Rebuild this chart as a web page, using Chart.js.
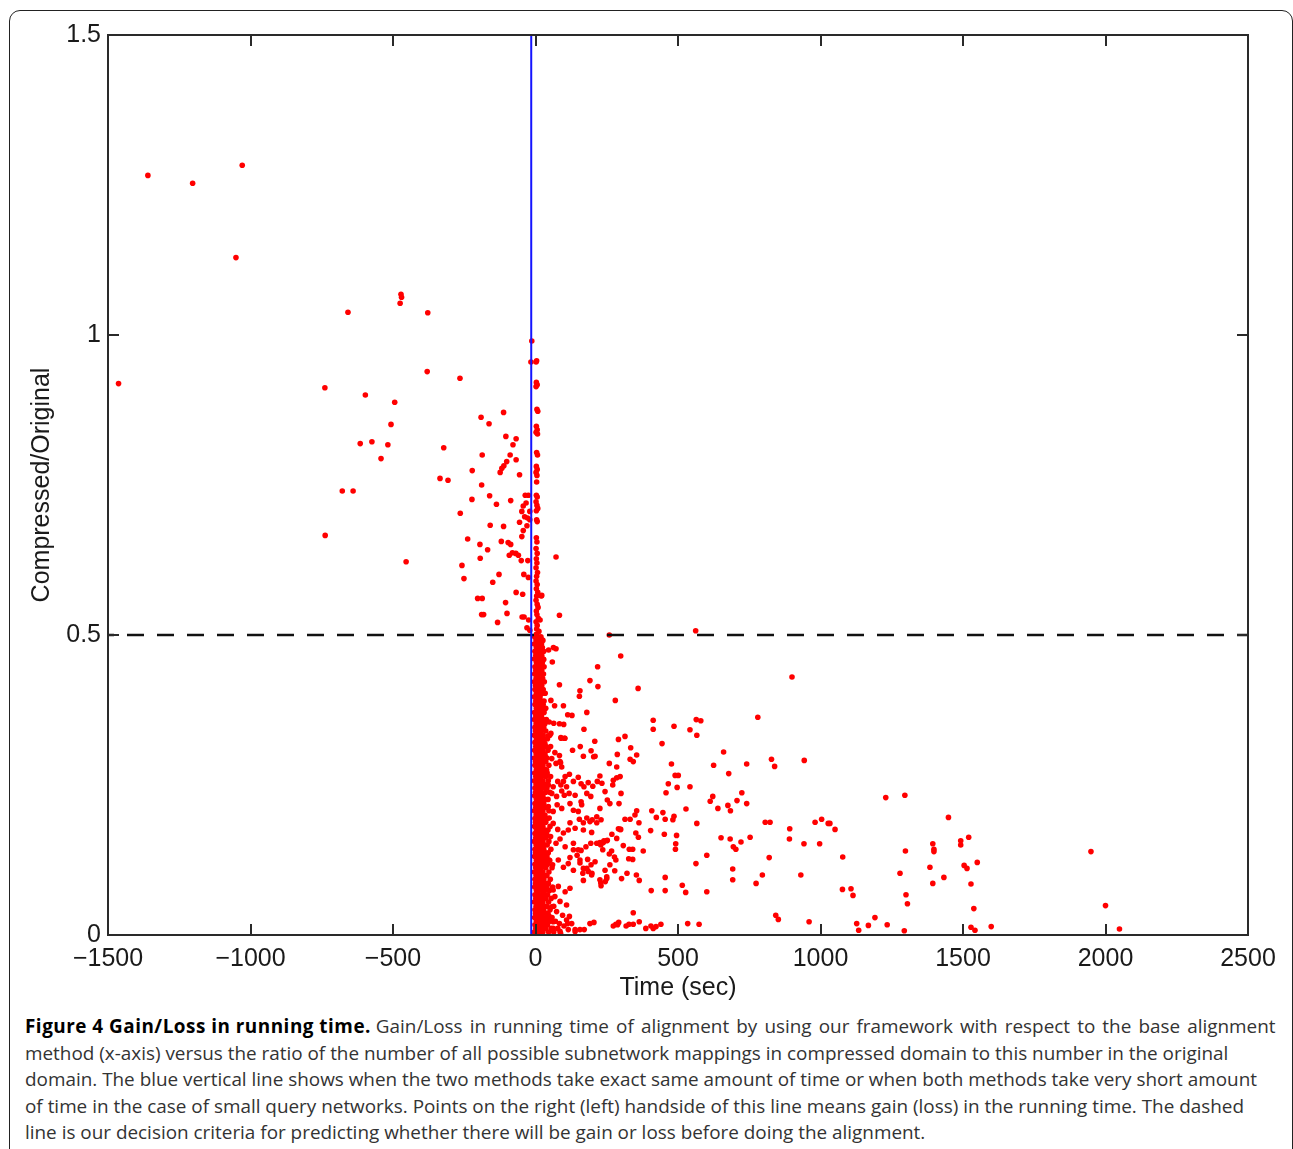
<!DOCTYPE html>
<html>
<head>
<meta charset="utf-8">
<script src="https://cdn.jsdelivr.net/npm/chart.js@4"></script>
<style>
  body { margin: 0; background: #fff; width: 1293px; height: 1149px; overflow: hidden; position: relative; }
  #frame { position: absolute; left: 9px; top: 10px; width: 1284px; height: 1160px; border: 1.4px solid #222; border-radius: 11px; box-sizing: border-box; }
  #wrap { position: absolute; left: 0; top: 0; width: 1293px; height: 1005px; }
  #caption { position: absolute; left: 25px; top: 1013px; font-family: "Open Sans", sans-serif; font-size: 18.9px; line-height: 26.5px; color: #333; white-space: nowrap; }
  #caption b { color: #000; letter-spacing: 0.5px; }
  #caption .wide { word-spacing: 2.2px; }
</style>
</head>
<body>
<div id="frame"></div>
<div id="wrap"><canvas id="grafico"></canvas></div>
<div id="caption">
  <div><b>Figure 4 Gain/Loss in running time.</b> <span class="wide">Gain/Loss in running time of alignment by using our framework with respect to the base alignment</span></div>
  <div>method (x-axis) versus the ratio of the number of all possible subnetwork mappings in compressed domain to this number in the original</div>
  <div>domain. The blue vertical line shows when the two methods take exact same amount of time or when both methods take very short amount</div>
  <div>of time in the case of small query networks. Points on the right (left) handside of this line means gain (loss) in the running time. The dashed</div>
  <div>line is our decision criteria for predicting whether there will be gain or loss before doing the alignment.</div>
</div>
<script>
// eixos
const xTicks = [-1500, -1000, -500, 0, 500, 1000, 1500, 2000, 2500];
const yTicks = [0, 0.5, 1, 1.5];
const equalTime = -15;      // linha azul
const decisionRatio = 0.5;  // linha tracejada

// pontos à esquerda da linha (perda): [tempo, razão]
const lossPoints = [
  [-1360,1.266],[-1203,1.253],[-1029,1.283],[-1051,1.129],[-1463,0.919],
  [-472,1.068],[-470,1.063],[-475,1.053],[-658,1.038],[-378,1.037],
  [-380,0.939],[-265,0.928],[-739,0.912],[-597,0.900],[-494,0.888],
  [-507,0.851],[-191,0.863],[-163,0.852],[-112,0.871],[-104,0.831],[-68,0.827],
  [-615,0.819],[-574,0.822],[-518,0.817],[-542,0.794],[-678,0.740],[-640,0.740],
  [-738,0.666],[-454,0.622],[-322,0.812],[-335,0.761],[-307,0.758],
  [-79,0.817],[-89,0.800],[-187,0.800],[-68,0.792],[-101,0.789],[-111,0.782],
  [-118,0.778],[-124,0.771],[-222,0.774],[-56,0.767],[-189,0.750],[-223,0.726],
  [-161,0.732],[-137,0.718],[-87,0.724],[-36,0.733],[-25,0.733],[-43,0.715],
  [-33,0.720],[-48,0.706],[-38,0.697],[-20,0.706],[-28,0.695],[-56,0.688],
  [-30,0.682],[-20,0.692],[-264,0.703],[-159,0.683],[-112,0.681],[-43,0.674],
  [-48,0.664],[-238,0.660],[-195,0.651],[-120,0.656],[-96,0.654],[-87,0.651],
  [-168,0.642],[-194,0.628],[-92,0.633],[-81,0.637],[-69,0.636],[-60,0.633],
  [-50,0.624],[-27,0.624],[-258,0.616],[-251,0.594],[-128,0.601],[-150,0.588],
  [-41,0.601],[-25,0.596],[-203,0.561],[-187,0.561],[-68,0.571],[-105,0.554],
  [-45,0.568],[-189,0.534],[-182,0.534],[-100,0.536],[-47,0.530],[-40,0.530],
  [-133,0.521],[-24,0.525],[-20,0.508],[-30,0.512]
];

// coluna junto de zero acima de 0.5
const columnPoints = [
  [-13,0.99],[-16,0.955],[2,0.955],[4,0.957],[3,0.921],[6,0.917],[2,0.914],
  [5,0.876],[8,0.873],[3,0.848],[6,0.842],[2,0.838],[7,0.835],[4,0.804],[7,0.8],
  [3,0.781],[6,0.776],[2,0.771],[5,0.766],[4,0.755],[3,0.733],[6,0.73],[2,0.722],
  [5,0.716],[8,0.711],[3,0.707],[4,0.692],[6,0.689],[3,0.662],[5,0.655],[2,0.644],
  [6,0.636],[3,0.627],[5,0.62],[2,0.612],[7,0.604],[4,0.598],[2,0.59],[6,0.584],
  [3,0.577],[8,0.571],[4,0.565],[2,0.558],[6,0.551],[9,0.546],[3,0.54],[5,0.534],
  [10,0.528],[2,0.522],[6,0.516],[4,0.51],[12,0.506],[3,0.501],
  [72,0.630],[84,0.533],[20,0.565],[22,0.566],[16,0.525],[23,0.492]
];

// faixa densa entre 0 e 0.5
const bandPoints = [
  [-3,0.497],[9,0.497],[19,0.497],[2,0.491],[14,0.491],[26,0.491],[-4,0.485],[7,0.485],[21,0.485],
  [3,0.479],[12,0.479],[24,0.479],[-2,0.473],[8,0.473],[17,0.473],[29,0.473],[1,0.466],[13,0.466],[22,0.466],
  [-4,0.460],[6,0.460],[18,0.460],[27,0.460],[3,0.454],[11,0.454],[24,0.454],[-2,0.447],[8,0.447],[16,0.447],[30,0.447],
  [1,0.441],[13,0.441],[22,0.441],[-3,0.435],[6,0.435],[19,0.435],[28,0.435],[2,0.428],[11,0.428],[25,0.428],
  [-4,0.422],[8,0.422],[16,0.422],[31,0.422],[0,0.416],[13,0.416],[22,0.416],[-2,0.409],[6,0.409],[19,0.409],[27,0.409],
  [3,0.403],[10,0.403],[24,0.403],[34,0.403],[-4,0.397],[8,0.397],[16,0.397],[1,0.390],[13,0.390],[22,0.390],[30,0.390],
  [-2,0.384],[6,0.384],[18,0.384],[27,0.384],[3,0.378],[11,0.378],[24,0.378],[36,0.378],[-3,0.371],[8,0.371],[16,0.371],[30,0.371],
  [1,0.365],[13,0.365],[21,0.365],[-4,0.359],[6,0.359],[18,0.359],[27,0.359],[38,0.359],[2,0.352],[11,0.352],[24,0.352],[33,0.352],
  [-2,0.346],[8,0.346],[16,0.346],[29,0.346],[0,0.340],[13,0.340],[21,0.340],[36,0.340],[-4,0.333],[6,0.333],[18,0.333],[27,0.333],
  [3,0.327],[10,0.327],[24,0.327],[32,0.327],[42,0.327],[-2,0.321],[8,0.321],[16,0.321],[29,0.321],[1,0.314],[13,0.314],[21,0.314],[37,0.314],
  [-3,0.308],[6,0.308],[18,0.308],[26,0.308],[44,0.308],[2,0.302],[11,0.302],[23,0.302],[33,0.302],
  [-4,0.295],[8,0.295],[16,0.295],[29,0.295],[40,0.295],[0,0.289],[13,0.289],[21,0.289],[36,0.289],
  [-2,0.283],[6,0.283],[18,0.283],[26,0.283],[47,0.283],[3,0.276],[10,0.276],[23,0.276],[33,0.276],
  [-3,0.270],[8,0.270],[16,0.270],[29,0.270],[41,0.270],[1,0.264],[13,0.264],[21,0.264],[36,0.264],
  [-4,0.257],[6,0.257],[18,0.257],[26,0.257],[45,0.257],[2,0.251],[11,0.251],[23,0.251],[33,0.251],
  [-2,0.245],[8,0.245],[16,0.245],[29,0.245],[40,0.245],[0,0.238],[13,0.238],[21,0.238],[36,0.238],[50,0.238],
  [-3,0.232],[6,0.232],[18,0.232],[26,0.232],[3,0.226],[10,0.226],[23,0.226],[33,0.226],[44,0.226],
  [-2,0.219],[8,0.219],[16,0.219],[29,0.219],[1,0.213],[13,0.213],[21,0.213],[38,0.213],
  [-4,0.207],[6,0.207],[18,0.207],[26,0.207],[47,0.207],[2,0.200],[11,0.200],[23,0.200],[33,0.200],
  [-2,0.194],[8,0.194],[16,0.194],[29,0.194],[42,0.194],[0,0.188],[13,0.188],[21,0.188],[36,0.188],
  [-3,0.181],[6,0.181],[18,0.181],[26,0.181],[51,0.181],[3,0.175],[10,0.175],[23,0.175],[33,0.175],[44,0.175],
  [-2,0.169],[8,0.169],[16,0.169],[29,0.169],[39,0.169],[1,0.162],[13,0.162],[21,0.162],[36,0.162],
  [-4,0.156],[6,0.156],[18,0.156],[26,0.156],[47,0.156],[2,0.150],[11,0.150],[23,0.150],[33,0.150],[41,0.150],
  [-2,0.143],[8,0.143],[16,0.143],[29,0.143],[54,0.143],[0,0.137],[13,0.137],[21,0.137],[36,0.137],[45,0.137],
  [-3,0.131],[6,0.131],[18,0.131],[26,0.131],[40,0.131],[3,0.124],[10,0.124],[23,0.124],[33,0.124],[50,0.124],
  [-2,0.118],[8,0.118],[16,0.118],[29,0.118],[42,0.118],[1,0.112],[13,0.112],[21,0.112],[36,0.112],[58,0.112],
  [-4,0.105],[6,0.105],[18,0.105],[26,0.105],[47,0.105],[2,0.099],[11,0.099],[23,0.099],[33,0.099],[40,0.099],
  [-2,0.093],[8,0.093],[16,0.093],[29,0.093],[52,0.093],[0,0.086],[13,0.086],[21,0.086],[36,0.086],[44,0.086],
  [-3,0.080],[6,0.080],[18,0.080],[26,0.080],[40,0.080],[60,0.080],[3,0.074],[10,0.074],[23,0.074],[33,0.074],[49,0.074],
  [-2,0.067],[8,0.067],[16,0.067],[29,0.067],[42,0.067],[1,0.061],[13,0.061],[21,0.061],[36,0.061],[55,0.061],
  [-4,0.055],[6,0.055],[18,0.055],[26,0.055],[46,0.055],[2,0.048],[11,0.048],[23,0.048],[33,0.048],[40,0.048],[64,0.048],
  [-2,0.042],[8,0.042],[16,0.042],[29,0.042],[51,0.042],[0,0.036],[13,0.036],[21,0.036],[36,0.036],[44,0.036],
  [-3,0.029],[6,0.029],[18,0.029],[26,0.029],[40,0.029],[58,0.029],[3,0.023],[10,0.023],[23,0.023],[33,0.023],[49,0.023],[70,0.023],
  [-2,0.017],[8,0.017],[16,0.017],[29,0.017],[42,0.017],[1,0.011],[13,0.011],[21,0.011],[36,0.011],[55,0.011],[78,0.011],
  [-4,0.005],[6,0.005],[18,0.005],[26,0.005],[46,0.005],[64,0.005]
];

// pontos à direita (ganho)
const gainPoints = [
  [259,0.500],[562,0.507],[46,0.475],[63,0.479],[72,0.477],[59,0.455],[29,0.459],[299,0.465],
  [218,0.447],[84,0.417],[191,0.424],[219,0.414],[156,0.407],[154,0.398],[360,0.411],[280,0.391],
  [900,0.430],[54,0.391],[67,0.382],[98,0.382],[113,0.367],[128,0.366],[180,0.371],[780,0.363],
  [413,0.358],[413,0.343],[486,0.348],[564,0.359],[580,0.357],[542,0.342],[566,0.333],
  [64,0.353],[84,0.352],[99,0.351],[170,0.343],[54,0.336],[50,0.333],[90,0.328],[102,0.328],
  [291,0.326],[314,0.331],[208,0.323],[444,0.319],[130,0.308],[157,0.314],[195,0.307],[209,0.298],
  [204,0.297],[168,0.298],[53,0.314],[68,0.304],[84,0.299],[88,0.287],[287,0.301],[334,0.312],
  [355,0.300],[343,0.289],[332,0.293],[259,0.286],[285,0.280],[660,0.305],[625,0.283],[741,0.285],
  [828,0.293],[839,0.281],[943,0.291],[477,0.285],[490,0.266],[501,0.266],[466,0.252],[497,0.246],
  [458,0.237],[542,0.247],[678,0.269],[724,0.237],[707,0.224],[741,0.219],[675,0.216],[684,0.207],
  [640,0.211],[622,0.231],[613,0.223],[528,0.210],[566,0.186],[408,0.207],[424,0.196],[455,0.193],
  [447,0.204],[482,0.192],[486,0.198],[452,0.168],[492,0.152],[491,0.143],[495,0.166],[404,0.174],
  [355,0.207],[349,0.200],[332,0.193],[363,0.187],[314,0.193],[291,0.177],[299,0.176],[308,0.149],
  [329,0.143],[341,0.143],[378,0.140],[352,0.170],[361,0.163],[651,0.162],[683,0.160],[753,0.163],
  [721,0.155],[703,0.143],[694,0.147],[601,0.133],[563,0.119],[806,0.188],[823,0.188],[892,0.177],
  [891,0.160],[981,0.188],[1004,0.193],[1027,0.186],[1051,0.176],[942,0.152],[997,0.152],[1078,0.130],
  [820,0.129],[931,0.100],[796,0.100],[774,0.086],[692,0.110],[692,0.092],[601,0.072],[515,0.083],
  [527,0.071],[455,0.096],[455,0.074],[406,0.074],[354,0.100],[364,0.091],[302,0.094],[321,0.103],
  [327,0.127],[341,0.126],[278,0.107],[250,0.097],[245,0.089],[282,0.125],[230,0.082],[229,0.087],
  [195,0.117],[180,0.111],[198,0.103],[166,0.103],[156,0.120],[168,0.091],[146,0.133],[121,0.129],
  [133,0.142],[160,0.141],[183,0.126],[209,0.122],[226,0.154],[240,0.157],[252,0.158],[236,0.142],
  [259,0.135],[267,0.140],[277,0.130],[343,0.037],[364,0.022],[343,0.018],[328,0.018],[318,0.015],
  [387,0.011],[405,0.015],[413,0.011],[423,0.014],[440,0.018],[534,0.019],[574,0.018],[843,0.033],
  [852,0.026],[960,0.022],[1077,0.076],[273,0.015],[282,0.018],[292,0.021],[288,0.017],[191,0.019],
  [205,0.021],[171,0.009],[156,0.009],[139,0.009],[119,0.031],[113,0.019],[100,0.015],[88,0.003],
  [48,0.355],[33,0.319],[45,0.332],[89,0.329],[103,0.328],[34,0.298],[57,0.294],[72,0.286],[86,0.289],
  [92,0.280],[39,0.275],[53,0.264],[45,0.250],[62,0.247],[78,0.256],[89,0.250],[104,0.264],[119,0.268],
  [98,0.256],[109,0.247],[133,0.256],[150,0.263],[160,0.252],[170,0.247],[185,0.254],[201,0.248],
  [217,0.256],[226,0.265],[233,0.253],[273,0.258],[285,0.262],[297,0.264],[271,0.250],[57,0.236],
  [74,0.231],[92,0.240],[101,0.233],[118,0.236],[139,0.233],[160,0.222],[180,0.236],[194,0.231],
  [244,0.239],[252,0.225],[261,0.219],[293,0.219],[300,0.236],[45,0.214],[62,0.206],[76,0.217],
  [92,0.211],[121,0.219],[133,0.208],[150,0.206],[162,0.217],[226,0.211],[215,0.197],[48,0.195],
  [62,0.186],[78,0.176],[98,0.170],[115,0.175],[121,0.187],[139,0.178],[154,0.193],[168,0.187],
  [180,0.195],[191,0.189],[199,0.192],[215,0.187],[230,0.192],[168,0.175],[197,0.171],[53,0.164],
  [72,0.153],[86,0.160],[104,0.147],[133,0.153],[150,0.142],[177,0.147],[194,0.153],[215,0.153],
  [229,0.150],[238,0.154],[250,0.157],[268,0.168],[285,0.161],[297,0.176],[48,0.125],[60,0.117],
  [80,0.125],[98,0.113],[115,0.119],[133,0.108],[156,0.125],[168,0.111],[185,0.106],[197,0.100],
  [226,0.092],[250,0.094],[244,0.108],[261,0.117],[45,0.086],[62,0.075],[80,0.081],[104,0.072],
  [121,0.078],[68,0.064],[86,0.056],[109,0.050],[57,0.047],[74,0.039],[95,0.033],[48,0.031],
  [62,0.022],[84,0.019],[109,0.025],[127,0.019],[62,0.011],[86,0.006],[115,0.009],[139,0.006],
  [1033,0.186],[1107,0.077],[1114,0.066],[1127,0.019],[1134,0.008],[1168,0.016],[1191,0.029],
  [1234,0.017],[1229,0.229],[1296,0.233],[1294,0.007],[1298,0.140],[1279,0.103],[1300,0.067],
  [1305,0.052],[1449,0.196],[1394,0.152],[1398,0.143],[1398,0.139],[1384,0.113],[1394,0.086],
  [1433,0.096],[1492,0.157],[1492,0.150],[1520,0.163],[1504,0.116],[1514,0.111],[1550,0.121],
  [1528,0.085],[1538,0.044],[1528,0.013],[1542,0.008],[1599,0.014],[1949,0.139],[2000,0.049],[2049,0.010]
];

const toXY = arr => arr.map(p => ({ x: p[0], y: p[1] }));
const fmtNum = v => (v < 0 ? '\u2212' + Math.abs(v) : String(v));

// caixa e marcas para dentro nos quatro lados
const boxPlugin = {
  id: 'boxPlugin',
  afterDatasetsDraw(c) {
    const { ctx, chartArea: a, scales: { x, y } } = c;
    ctx.save();
    ctx.strokeStyle = '#2a2a2a';
    ctx.lineWidth = 2;
    ctx.beginPath();
    xTicks.slice(1, -1).forEach(v => {
      const px = Math.round(x.getPixelForValue(v));
      ctx.moveTo(px, a.bottom); ctx.lineTo(px, a.bottom - 11);
      ctx.moveTo(px, a.top); ctx.lineTo(px, a.top + 11);
    });
    yTicks.slice(1, -1).forEach(v => {
      const py = Math.round(y.getPixelForValue(v));
      ctx.moveTo(a.left, py); ctx.lineTo(a.left + 11, py);
      ctx.moveTo(a.right, py); ctx.lineTo(a.right - 11, py);
    });
    ctx.stroke();
    ctx.strokeRect(a.left, a.top, a.right - a.left, a.bottom - a.top);
    ctx.restore();
  }
};

const font = { family: '"Liberation Sans", Arial, sans-serif', size: 25 };
const dot = { pointRadius: 2.8, borderWidth: 0, backgroundColor: '#ff0000' };

new Chart(document.getElementById('grafico'), {
  type: 'scatter',
  data: {
    datasets: [
      { data: [{ x: equalTime, y: 0 }, { x: equalTime, y: 1.5 }], showLine: true, pointRadius: 0,
        borderColor: '#1414ff', borderWidth: 2, fill: false },
      { data: [{ x: -1500, y: decisionRatio }, { x: 2500, y: decisionRatio }], showLine: true, pointRadius: 0,
        borderColor: '#111', borderWidth: 2.5, borderDash: [17, 13], borderDashOffset: 11, fill: false },
      { data: toXY(lossPoints), ...dot },
      { data: toXY(columnPoints), ...dot },
      { data: toXY(bandPoints), ...dot },
      { data: toXY(gainPoints), ...dot }
    ]
  },
  options: {
    responsive: true,
    maintainAspectRatio: false,
    animation: false,
    layout: { padding: { left: 0, right: 45, top: 35, bottom: 0 } },
    plugins: { legend: { display: false }, tooltip: { enabled: false } },
    scales: {
      x: {
        type: 'linear', min: -1500, max: 2500,
        afterBuildTicks: s => { s.ticks = xTicks.map(v => ({ value: v })); },
        afterFit: s => { s.height = 70; },
        grid: { display: false, drawTicks: false },
        border: { display: false },
        ticks: { font, color: '#1a1a1a', padding: 9, maxRotation: 0, autoSkip: false, callback: v => fmtNum(v) },
        title: { display: true, text: 'Time (sec)', font, color: '#1a1a1a', padding: { top: 0, bottom: 2 } }
      },
      y: {
        type: 'linear', min: 0, max: 1.5,
        afterBuildTicks: s => { s.ticks = yTicks.map(v => ({ value: v })); },
        afterFit: s => { s.width = 108; },
        grid: { display: false, drawTicks: false },
        border: { display: false },
        ticks: { font, color: '#1a1a1a', padding: 7, callback: v => String(v) },
        title: { display: true, text: 'Compressed/Original', font, color: '#1a1a1a', padding: { top: 27, bottom: 0 } }
      }
    }
  },
  plugins: [boxPlugin]
});
</script>
</body>
</html>
